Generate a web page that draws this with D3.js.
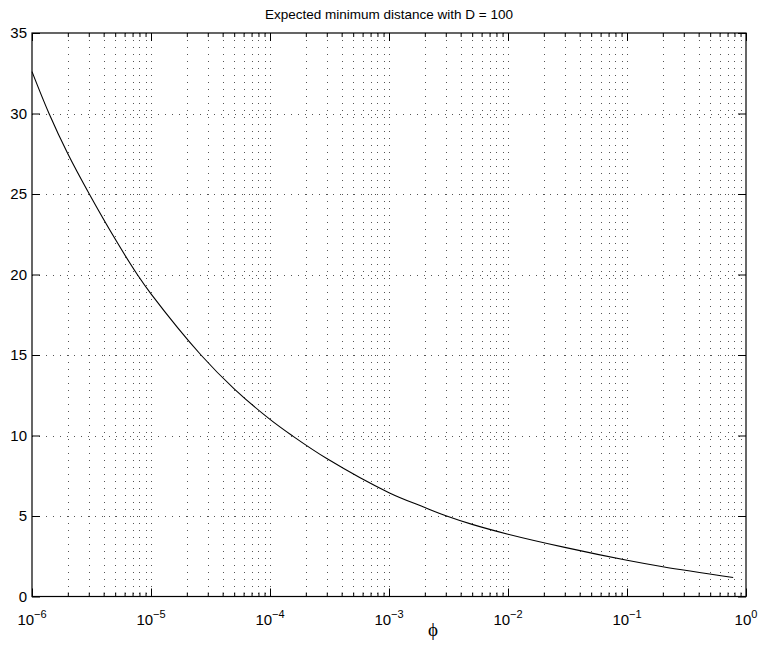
<!DOCTYPE html>
<head>
  <meta charset="utf-8">
  <title>Expected minimum distance</title>
  <script src="https://d3js.org/d3.v7.min.js"></script>
  <style>
    body { margin: 0; background: #fff; }
    text { font-family: "Liberation Sans", Arial, sans-serif; fill: #000; }
  </style>
</head>
<body>
  <div id="chart"></div>
  <script>
    // curve
    var phiValues  = [1e-6, 1.39e-6, 2e-6, 3.03e-6, 5e-6, 7.67e-6, 1e-5, 2.63e-5, 5e-5, 1e-4, 1.53e-4, 3e-4, 1e-3, 2e-3, 3.05e-3, 5e-3, 1e-2, 3e-2, 1e-1, 2e-1, 0.78];
    var distValues = [32.6, 30, 27.5, 25, 22.2, 20, 18.8, 15, 12.9, 11.0, 10, 8.57, 6.45, 5.53, 5.0, 4.48, 3.87, 3.05, 2.25, 1.85, 1.18];

    var xMajor = [1e-6, 1e-5, 1e-4, 1e-3, 1e-2, 1e-1, 1];
    var xExponents = ["\u22126", "\u22125", "\u22124", "\u22123", "\u22122", "\u22121", "0"];
    var yTicks = [0, 5, 10, 15, 20, 25, 30, 35];

    var titleText = "Expected minimum distance with D = 100";
    var xLabelText = "\u03d5";

    var width = 758, height = 646;
    var pLeft = 32, pTop = 33, pRight = 746, pBottom = 596.5;

    var xMinor = [];
    xMajor.slice(0, -1).forEach(function (m) {
      for (var k = 2; k <= 9; k++) xMinor.push(m * k);
    });

    var x = d3.scaleLog().domain([1e-6, 1]).range([pLeft, pRight]);
    var y = d3.scaleLinear().domain([0, 35]).range([pBottom, pTop]);

    var svg = d3.select('#chart').append('svg')
      .attr('width', width)
      .attr('height', height);

    // dotted grid
    var gridColor = '#555';
    svg.append('g')
      .selectAll('line')
      .data(xMajor.concat(xMinor).filter(function (d) { return d > 1e-6 && d < 1; }))
      .enter().append('line')
        .attr('x1', function (d) { return Math.round(x(d)) + 0.5; })
        .attr('x2', function (d) { return Math.round(x(d)) + 0.5; })
        .attr('y1', pTop).attr('y2', pBottom)
        .attr('stroke', gridColor)
        .attr('stroke-dasharray', '1,6');

    svg.append('g')
      .selectAll('line')
      .data(yTicks.filter(function (d) { return d > 0 && d < 35; }))
      .enter().append('line')
        .attr('y1', function (d) { return Math.round(y(d)) + 0.5; })
        .attr('y2', function (d) { return Math.round(y(d)) + 0.5; })
        .attr('x1', pLeft).attr('x2', pRight)
        .attr('stroke', gridColor)
        .attr('stroke-dasharray', '1,6');

    // ticks pointing inward on all four sides
    function ticks(axis) {
      return function (g) {
        g.call(axis);
        g.select('.domain').remove();
        g.selectAll('.tick line').attr('stroke', '#000');
      };
    }
    svg.append('g').attr('transform', 'translate(0,' + pBottom + ')')
      .call(ticks(d3.axisBottom(x).tickValues(xMajor).tickSize(-8).tickFormat('')));
    svg.append('g').attr('transform', 'translate(0,' + pBottom + ')')
      .call(ticks(d3.axisBottom(x).tickValues(xMinor).tickSize(-4).tickFormat('')));
    svg.append('g').attr('transform', 'translate(0,' + pTop + ')')
      .call(ticks(d3.axisTop(x).tickValues(xMajor).tickSize(-8).tickFormat('')));
    svg.append('g').attr('transform', 'translate(0,' + pTop + ')')
      .call(ticks(d3.axisTop(x).tickValues(xMinor).tickSize(-4).tickFormat('')));
    svg.append('g').attr('transform', 'translate(' + pLeft + ',0)')
      .call(ticks(d3.axisLeft(y).tickValues(yTicks).tickSize(-8).tickFormat('')));
    svg.append('g').attr('transform', 'translate(' + pRight + ',0)')
      .call(ticks(d3.axisRight(y).tickValues(yTicks).tickSize(-8).tickFormat('')));

    // box
    svg.append('rect')
      .attr('x', pLeft).attr('y', pTop)
      .attr('width', pRight - pLeft).attr('height', pBottom - pTop)
      .attr('fill', 'none')
      .attr('stroke', '#000')
      .attr('stroke-width', 1.2);

    // y labels
    svg.append('g')
      .selectAll('text')
      .data(yTicks)
      .enter().append('text')
        .attr('x', pLeft - 5)
        .attr('y', function (d) { return y(d) + 5; })
        .attr('text-anchor', 'end')
        .style('font-size', '15px')
        .text(function (d) { return d; });

    // x labels 10^n
    var xl = svg.append('g')
      .selectAll('text')
      .data(xMajor)
      .enter().append('text')
        .attr('x', function (d) { return x(d); })
        .attr('y', pBottom + 28)
        .attr('text-anchor', 'middle')
        .style('font-size', '15px');
    xl.append('tspan').text('10');
    xl.append('tspan')
      .attr('dy', -7)
      .style('font-size', '11px')
      .text(function (d, i) { return xExponents[i]; });

    // curve
    var line = d3.line()
      .x(function (d, i) { return x(phiValues[i]); })
      .y(function (d) { return y(d); })
      .curve(d3.curveCatmullRom.alpha(0.5));

    svg.append('path')
      .datum(distValues)
      .attr('d', line)
      .attr('fill', 'none')
      .attr('stroke', '#000')
      .attr('stroke-width', 1.1);

    // title and axis label
    svg.append('text')
      .attr('x', (pLeft + pRight) / 2)
      .attr('y', 19)
      .attr('text-anchor', 'middle')
      .style('font-size', '13.5px')
      .text(titleText);

    svg.append('text')
      .attr('x', 433)
      .attr('y', 636)
      .attr('text-anchor', 'middle')
      .style('font-family', '"Liberation Serif", "DejaVu Serif", serif')
      .style('font-size', '19px')
      .text(xLabelText);
  </script>
</body>
